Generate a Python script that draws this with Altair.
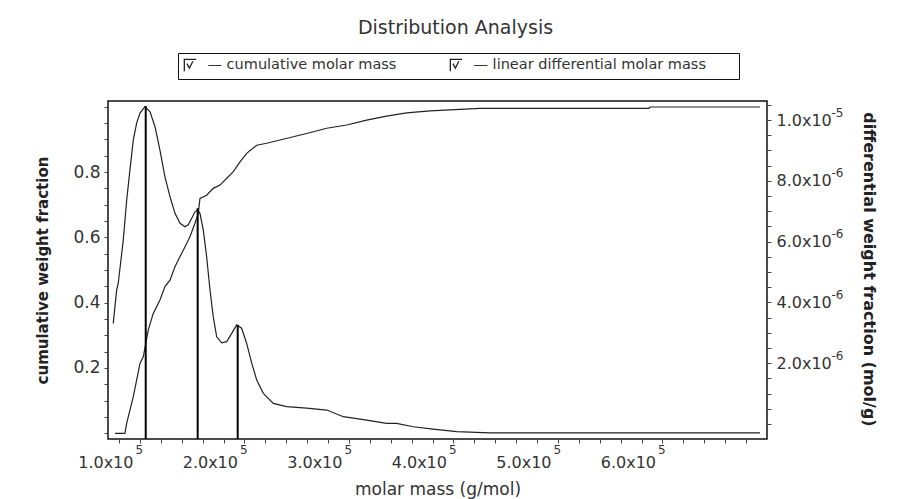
import altair as alt
import pandas as pd

# ---- data ----
series_names = ["— cumulative molar mass", "— linear differential molar mass"]

cum_mass = [76100, 85600, 87300, 90400, 93600, 96800, 100000, 103200, 105500, 107900,
            112700, 119100, 123900, 128700, 133500, 138300, 143100, 147800, 152600, 155800,
            157400, 163800, 170100, 176600, 183000, 189300, 195700, 202100, 211700, 221200,
            234000, 246700, 259500, 278700, 297800, 316900, 336000, 355200, 377500, 425400,
            587000, 588000, 693300]
cum_frac = [0.000, 0.000, 0.031, 0.071, 0.112, 0.163, 0.214, 0.234, 0.275, 0.316,
            0.367, 0.408, 0.449, 0.469, 0.510, 0.541, 0.571, 0.602, 0.643, 0.673,
            0.719, 0.729, 0.750, 0.760, 0.781, 0.801, 0.831, 0.857, 0.882, 0.888,
            0.898, 0.908, 0.918, 0.934, 0.944, 0.959, 0.971, 0.981, 0.987, 0.995,
            0.995, 0.999, 0.999]

diff_mass = [74400, 77700, 79200, 84000, 87300, 90400, 93600, 96800, 100000, 104800,
             109600, 114400, 119100, 123900, 128700, 133500, 138300, 143100, 146200, 149500,
             152600, 155200, 157400, 160600, 163800, 167000, 170100, 173400, 178200, 183000,
             187800, 192500, 197300, 202100, 206900, 211700, 218000, 227600, 240400, 259500,
             278700, 294600, 316900, 336000, 345600, 361500, 380600, 403100, 434900, 693300]
diff_frac = [3.31e-6, 4.41e-6, 4.63e-6, 6.05e-6, 7.37e-6, 8.36e-6, 9.34e-6, 9.90e-6, 10.23e-6, 10.44e-6,
             10.27e-6, 9.78e-6, 9.01e-6, 8.13e-6, 7.48e-6, 6.93e-6, 6.60e-6, 6.49e-6, 6.55e-6, 6.77e-6,
             6.98e-6, 7.04e-6, 6.93e-6, 6.38e-6, 5.50e-6, 4.41e-6, 3.53e-6, 2.87e-6, 2.67e-6, 2.71e-6,
             2.98e-6, 3.26e-6, 3.15e-6, 2.65e-6, 2.00e-6, 1.45e-6, 1.01e-6, 0.68e-6, 0.57e-6, 0.52e-6,
             0.46e-6, 0.24e-6, 0.13e-6, 0.02e-6, 0.02e-6, -0.09e-6, -0.17e-6, -0.25e-6, -0.29e-6, -0.29e-6]

peak_mass = [105500, 155200, 193500]
peak_frac = [10.46e-6, 7.10e-6, 3.26e-6]

x_ticks = [80000 + 20000 * i for i in range(31)]
x_label_ticks = [100000, 200000, 300000, 400000, 500000, 600000]
left_ticks = [round(0.05 * i, 2) for i in range(0, 21)]
right_ticks = [0.5e-6 * i for i in range(0, 22)]
right_label_ticks = [2e-6, 4e-6, 6e-6, 8e-6, 10e-6]

cum_df = pd.DataFrame({"mass": cum_mass, "frac": cum_frac, "series": series_names[0]})
diff_df = pd.DataFrame({"mass": diff_mass, "frac": diff_frac, "series": series_names[1]})
peak_df = pd.DataFrame({"mass": peak_mass, "frac": peak_frac})

FONT = "DejaVu Sans"
TXT = "#333333"
W, H = 659, 338

x_scale = alt.Scale(domain=[69400, 700000], nice=False, zero=False)
x_common = dict(orient="bottom", domain=False, grid=False, tickSize=4,
                labelFont=FONT, labelColor=TXT)

# base text of the x tick labels ("1.0x10"), right-aligned just left of the tick
x_base = alt.X(
    "mass:Q", scale=x_scale,
    axis=alt.Axis(
        values=x_ticks, title="molar mass (g/mol)",
        labelExpr="(round(datum.value/10000) % 10 == 0 && datum.value <= 600000) ? format(datum.value/100000, '.1f') + 'x10' : ''",
        labelAlign="right", labelOffset=-7, labelPadding=11, labelFontSize=16,
        titleFont=FONT, titleFontSize=17, titleFontWeight="normal", titleColor=TXT,
        titleY=42, titleBaseline="top", tickColor="#444", **x_common,
    ),
)
# raised exponent of the x tick labels
x_sup = alt.X(
    "mass:Q", scale=x_scale,
    axis=alt.Axis(
        values=x_label_ticks, title=None, labelExpr="'5'",
        labelAlign="left", labelOffset=-5, labelPadding=1, labelFontSize=12,
        tickOpacity=0, **x_common,
    ),
)

color_enc = alt.Color(
    "series:N",
    scale=alt.Scale(domain=series_names, range=["#222222", "#222222"]),
    legend=alt.Legend(
        title="xxxxx", titleOrient="right", titleFontSize=9, titlePadding=2,
        titleOpacity=0,
        orient="none", legendX=70, legendY=-48,
        direction="horizontal", columns=2, columnPadding=50,
        strokeColor="#111111", fillColor="white", padding=5,
        symbolType="M-1,1L-1,-1L1,-1M-0.55,-0.3L-0.15,0.45L0.45,-0.7",
        symbolSize=140, symbolStrokeColor="#444444", symbolFillColor="transparent",
        symbolStrokeWidth=1.3, labelOffset=10,
        labelFont=FONT, labelFontSize=14.5, labelColor=TXT, labelLimit=500,
    ),
)

left_y = alt.Y(
    "frac:Q",
    scale=alt.Scale(domain=[-0.0174, 1.0174], nice=False, zero=False),
    axis=alt.Axis(
        orient="left", values=left_ticks,
        labelExpr="(round(datum.value*20) % 4 == 0 && datum.value > 0.01 && datum.value < 0.99) ? format(datum.value, '.1f') : ''",
        title="cumulative weight fraction",
        labelFont=FONT, labelFontSize=17, labelColor=TXT, labelPadding=4,
        titleFont=FONT, titleFontSize=15, titleFontWeight="bold", titleColor="#222",
        titleX=-66, titleY=169, titleAngle=-90, titleAlign="center", titleBaseline="middle",
        domain=False, grid=False, tickSize=4, tickColor="#444",
    ),
)

right_scale = alt.Scale(domain=[-0.493e-6, 10.625e-6], nice=False, zero=False)
right_base = alt.Y(
    "frac:Q", scale=right_scale,
    axis=alt.Axis(
        orient="right", values=right_ticks,
        labelExpr="(round(datum.value*2e6) % 4 == 0 && round(datum.value*2e6) > 0 && round(datum.value*2e6) <= 20) ? format(round(datum.value*2e6) == 20 ? 1 : datum.value*1e6, '.1f') + 'x10' : ''",
        title="differential weight fraction (mol/g)",
        labelFont=FONT, labelFontSize=16, labelColor=TXT, labelPadding=5,
        titleFont=FONT, titleFontSize=16, titleFontWeight="bold", titleColor="#222",
        titleX=101, titleY=168, titleAngle=90, titleAlign="center", titleBaseline="middle",
        domain=False, grid=False, tickSize=4, tickColor="#444",
    ),
)
right_sup = alt.Y(
    "frac:Q", scale=right_scale,
    axis=alt.Axis(
        orient="right", values=right_label_ticks, title=None,
        labelExpr="round(datum.value*1e6) == 10 ? '-5' : '-6'",
        labelFont=FONT, labelFontSize=12, labelColor=TXT, labelPadding=60,
        labelAlign="left", labelOffset=-8,
        domain=False, grid=False, tickSize=4, tickOpacity=0,
    ),
)

cum_line = alt.Chart(cum_df).mark_line(strokeWidth=1.2).encode(
    x=x_base, y=left_y, color=color_enc, order="mass:Q"
)
diff_line = alt.Chart(diff_df).mark_line(strokeWidth=1.2).encode(
    x=x_sup, y=right_base, color=color_enc, order="mass:Q"
)
peak_rules = alt.Chart(peak_df).mark_rule(strokeWidth=2, color="#000000").encode(
    x=x_sup, y=right_sup, y2=alt.value(H)
)

inner = alt.layer(diff_line, peak_rules).resolve_axis(y="independent")

chart = (
    alt.layer(cum_line, inner)
    .resolve_scale(y="independent")
    .resolve_axis(x="independent")
    .properties(
        width=W, height=H,
        title=alt.TitleParams("Distribution Analysis", font=FONT, fontSize=19,
                              fontWeight="normal", color=TXT, anchor="middle",
                              offset=15, dx=18),
        autosize=alt.AutoSizeParams(type="none"),
        padding={"left": 108, "top": 101, "right": 135, "bottom": 60},
        background="white",
    )
    .configure_view(stroke="#111111", strokeWidth=1.5)
)

chart.save("out.html", embed_options={"renderer": "svg", "actions": False})
